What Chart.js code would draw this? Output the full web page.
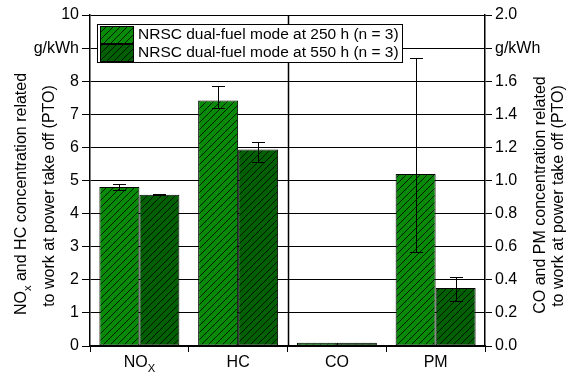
<!DOCTYPE html>
<html>
<head>
<meta charset="utf-8">
<script src="https://cdn.jsdelivr.net/npm/chart.js@4/dist/chart.umd.min.js"></script>
<style>
  body { margin: 0; background: #fff; }
  #wrap { width: 574px; height: 376px; position: relative; }
</style>
</head>
<body>
<div id="wrap"><canvas id="chart"></canvas></div>
<script>
// categories and series (left axis: NOx, HC in g/kWh; right axis: CO, PM in g/kWh)
const categories = ['NOx', 'HC', 'CO', 'PM'];
const seriesLabels = ['NRSC dual-fuel mode at 250 h (n = 3)', 'NRSC dual-fuel mode at 550 h (n = 3)'];

const left250 = [4.80, 7.42, null, null];
const left550 = [4.57, 5.94, null, null];
const right250 = [null, null, 0.02, 1.04];
const right550 = [null, null, 0.02, 0.35];

// error bar ends (min / max)
const low250 = [4.72, 7.18, 0.02, 0.57];
const high250 = [4.90, 7.86, 0.02, 1.74];
const low550 = [4.55, 5.55, 0.02, 0.27];
const high550 = [4.60, 6.17, 0.02, 0.415];

const leftTicks = { min: 0, max: 10, step: 1, unitAt: 9 };
const rightTicks = { min: 0, max: 2, step: 0.2, unitAt: 1.8 };

const FONT = '"Liberation Sans", Arial, sans-serif';

function hatch(color) {
    const c = document.createElement('canvas');
    c.width = 7; c.height = 7;
    const g = c.getContext('2d');
    g.fillStyle = color;
    g.fillRect(0, 0, 7, 7);
    g.strokeStyle = 'rgba(0,0,0,0.8)';
    g.lineWidth = 1;
    g.beginPath();
    g.moveTo(-1, 8); g.lineTo(8, -1);
    g.moveTo(-1, 1); g.lineTo(1, -1);
    g.moveTo(6, 8); g.lineTo(8, 6);
    g.stroke();
    return g.createPattern(c, 'repeat');
}
const fill250 = hatch('#088a08');
const fill550 = hatch('#035f03');

// draw text with "x" subscripts marked as _{..}
function richText(ctx, parts, x, y, size, align) {
    let total = 0;
    parts.forEach(p => {
        ctx.font = (p.sub ? size * 0.7 : size) + 'px ' + FONT;
        total += ctx.measureText(p.t).width;
    });
    let cx = align === 'center' ? x - total / 2 : x;
    ctx.textAlign = 'left';
    ctx.textBaseline = 'alphabetic';
    parts.forEach(p => {
        ctx.font = (p.sub ? size * 0.7 : size) + 'px ' + FONT;
        ctx.fillText(p.t, cx, y + (p.sub ? size * 0.3 : 0));
        cx += ctx.measureText(p.t).width;
    });
}
function parseSub(s) {
    if (s.startsWith('NOx')) return [{ t: 'NO' }, { t: s === 'NOx' ? 'X' : 'x', sub: true }, { t: s.slice(3) }];
    return [{ t: s }];
}

const decorations = {
    id: 'decorations',
    afterDatasetsDraw(chart) {
        const ctx = chart.ctx;
        const a = chart.chartArea;
        const xs = chart.scales.x;
        ctx.save();
        // divider between left and right axis groups
        const mid = (xs.getPixelForValue(1) + xs.getPixelForValue(2)) / 2;
        ctx.strokeStyle = '#000';
        ctx.lineWidth = 1.5;
        ctx.beginPath();
        ctx.moveTo(Math.round(mid) + 0.5, a.top);
        ctx.lineTo(Math.round(mid) + 0.5, a.bottom);
        ctx.stroke();

        // error bars
        const errs = [[low250, high250], [low550, high550], [low250, high250], [low550, high550]];
        ctx.lineWidth = 1;
        chart.data.datasets.forEach((ds, di) => {
            const meta = chart.getDatasetMeta(di);
            const ys = chart.scales[ds.yAxisID];
            ds.data.forEach((v, i) => {
                if (v === null) return;
                const bx = Math.round(meta.data[i].x) + 0.5;
                const y1 = Math.round(ys.getPixelForValue(errs[di][0][i])) + 0.5;
                const y2 = Math.round(ys.getPixelForValue(errs[di][1][i])) + 0.5;
                if (Math.abs(y1 - y2) < 1) return;
                ctx.beginPath();
                ctx.moveTo(bx, y1); ctx.lineTo(bx, y2);
                ctx.moveTo(bx - 6.5, y1); ctx.lineTo(bx + 6.5, y1);
                ctx.moveTo(bx - 6.5, y2); ctx.lineTo(bx + 6.5, y2);
                ctx.stroke();
            });
        });

        // category labels
        ctx.fillStyle = '#000';
        categories.forEach((c, i) => {
            richText(ctx, parseSub(c), xs.getPixelForValue(i), 367, 16, 'center');
        });

        // axis titles
        const titles = [
            { x: 26, lines: [parseSub('NOx and HC concentration related')], y: 194 },
            { x: 54, lines: [[{ t: 'to work at power take off (PTO)' }]], y: 196 },
            { x: 545, lines: [[{ t: 'CO and PM concentration related' }]], y: 195 },
            { x: 563, lines: [[{ t: 'to work at power take off (PTO)' }]], y: 196 }
        ];
        titles.forEach(t => {
            ctx.save();
            ctx.translate(t.x, t.y);
            ctx.rotate(-Math.PI / 2);
            richText(ctx, t.lines[0], 0, 0, 16, 'center');
            ctx.restore();
        });

        // legend
        const lx = 97, ly = 24, lw = 305, lh = 38;
        ctx.fillStyle = '#fff';
        ctx.fillRect(lx, ly, lw, lh);
        ctx.strokeStyle = '#000';
        ctx.lineWidth = 1;
        ctx.strokeRect(lx + 0.5, ly + 0.5, lw, lh);
        [fill250, fill550].forEach((f, i) => {
            const ry = ly + 2 + i * 18;
            ctx.fillStyle = f;
            ctx.fillRect(lx + 3, ry, 33, 17);
            ctx.strokeRect(lx + 3.5, ry + 0.5, 33, 17);
            ctx.fillStyle = '#000';
            ctx.font = '15.5px ' + FONT;
            ctx.textAlign = 'left';
            ctx.textBaseline = 'middle';
            ctx.fillText(seriesLabels[i], lx + 41, ry + 9);
        });
        ctx.restore();
    }
};

new Chart(document.getElementById('chart'), {
    type: 'bar',
    data: {
        labels: categories,
        datasets: [
            { label: seriesLabels[0], data: left250, yAxisID: 'y', backgroundColor: fill250 },
            { label: seriesLabels[1], data: left550, yAxisID: 'y', backgroundColor: fill550 },
            { label: seriesLabels[0], data: right250, yAxisID: 'y1', backgroundColor: fill250 },
            { label: seriesLabels[1], data: right550, yAxisID: 'y1', backgroundColor: fill550 }
        ].map(d => Object.assign(d, {
            borderColor: '#000', borderWidth: 1, borderSkipped: false,
            skipNull: true, categoryPercentage: 0.81, barPercentage: 1.0
        }))
    },
    options: {
        responsive: true,
        maintainAspectRatio: false,
        animation: false,
        layout: { padding: { top: 15, left: 0, right: 0, bottom: 0 } },
        plugins: { legend: { display: false }, tooltip: { enabled: false } },
        scales: {
            x: {
                grid: {
                    offset: true,
                    color: 'transparent',
                    tickColor: '#000',
                    tickLength: 6,
                    drawOnChartArea: false
                },
                border: { display: true, color: '#000', width: 1.5 },
                ticks: { display: false },
                afterFit: s => { s.height = 30; }
            },
            y: {
                position: 'left',
                min: leftTicks.min, max: leftTicks.max,
                grid: { color: '#000', lineWidth: 1, tickLength: 8 },
                border: { display: true, color: '#000', width: 1.5 },
                ticks: {
                    stepSize: leftTicks.step,
                    padding: 3,
                    color: '#000',
                    font: { family: FONT, size: 16 },
                    callback: v => v === leftTicks.unitAt ? 'g/kWh' : v
                },
                afterFit: s => { s.width = 90; }
            },
            y1: {
                position: 'right',
                min: rightTicks.min, max: rightTicks.max,
                grid: { drawOnChartArea: false, color: '#000', tickLength: 7 },
                border: { display: true, color: '#000', width: 1.5 },
                ticks: {
                    stepSize: rightTicks.step,
                    padding: 3,
                    color: '#000',
                    font: { family: FONT, size: 16 },
                    callback: v => Math.abs(v - rightTicks.unitAt) < 1e-9 ? 'g/kWh' : v.toFixed(1)
                },
                afterFit: s => { s.width = 89; }
            }
        }
    },
    plugins: [decorations]
});
</script>
</body>
</html>
